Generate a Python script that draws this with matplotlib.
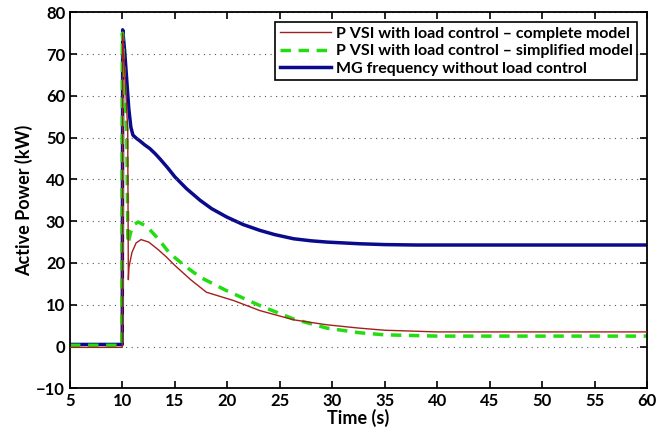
import matplotlib.pyplot as plt

# values
t_blue = [5, 9.98, 10.02, 10.2, 10.4, 10.6, 10.8, 11.0, 11.3, 11.67, 12.1, 12.6, 13.1,
          13.58, 14.3, 15.0, 16.1, 17.4, 18.5, 19.94, 21.5, 23.1, 24.5, 26.3, 28,
          29.5, 32.6, 35, 38, 40, 60]
p_blue = [0.5, 0.5, 75.8, 71, 64, 57, 52.5, 50.6, 49.9, 49.2, 48.3, 47.4, 46.2,
          44.9, 42.8, 40.6, 37.8, 35.0, 33.0, 31.0, 29.2, 27.8, 26.8, 25.8, 25.3,
          25.0, 24.6, 24.4, 24.3, 24.3, 24.3]

t_red = [5, 9.98, 10.02, 10.3, 10.5, 10.56, 10.62, 10.9, 11.3, 11.77, 12.5, 13.4, 14.2,
         15.0, 16.5, 18.0, 20.6, 23.1, 26.3, 29.5, 32.6, 35, 40, 60]
p_red = [-0.2, -0.2, 75, 62, 52, 16, 19, 22.5, 24.8, 25.6, 25.0, 23.2, 21.4,
         19.4, 16.0, 13.0, 11.0, 8.6, 6.4, 5.2, 4.4, 3.9, 3.5, 3.5]

t_green = [5, 9.93, 10.0, 10.2, 10.4, 10.52, 10.8, 11.1, 11.5, 12.3, 13.4, 14.5,
           16.0, 17.4, 19.9, 23.1, 26.3, 29.5, 32.6, 35, 40, 60]
p_green = [0.3, 0.3, 75, 62, 52, 24.6, 27.5, 29.2, 29.8, 28.8, 25.8, 22.3,
           19.2, 16.6, 13.4, 9.8, 6.6, 4.4, 3.3, 2.8, 2.5, 2.5]

labels = ['P VSI with load control \u2013 complete model',
          'P VSI with load control \u2013 simplified model',
          'MG frequency without load control']

plt.rcParams['font.family'] = ['Lato', 'DejaVu Sans']
plt.rcParams['font.weight'] = 'bold'

fig = plt.figure(figsize=(6.7, 4.33), dpi=100)
ax = fig.add_axes([0.1045, 0.1032, 0.8612, 0.8684])

ax.plot(t_red, p_red, color='#a31f1f', lw=1.0, label=labels[0], zorder=3)
ax.plot(t_green, p_green, color='#22dd11', lw=2.5, ls=(0, (3, 2.2)), label=labels[1], zorder=2)
ax.plot(t_blue, p_blue, color='#0a0a8c', lw=2.5, label=labels[2], zorder=1)

ax.set_xlim(5, 60)
ax.set_ylim(-10, 80)
ax.set_xticks(range(5, 61, 5))
ax.set_yticks(range(-10, 81, 10))
ax.yaxis.grid(True, ls=(0, (1, 4)), color='#555555', lw=0.8)
ax.tick_params(direction='in', top=True, right=True, labelsize=12, width=1.2, length=5)
for s in ax.spines.values():
    s.set_linewidth(1.3)

ax.set_xlabel('Time (s)', fontsize=13, fontweight='bold', labelpad=0)
ax.set_ylabel('Active Power (kW)', fontsize=13, fontweight='bold', labelpad=2)

leg = ax.legend(loc='upper right', fontsize=11.5, fancybox=False, framealpha=1,
                edgecolor='black', borderpad=0.3, labelspacing=0.2,
                handlelength=3.2, handletextpad=0.3, borderaxespad=0.6)
leg.get_frame().set_linewidth(1.2)

plt.savefig('out.png', dpi=100)
